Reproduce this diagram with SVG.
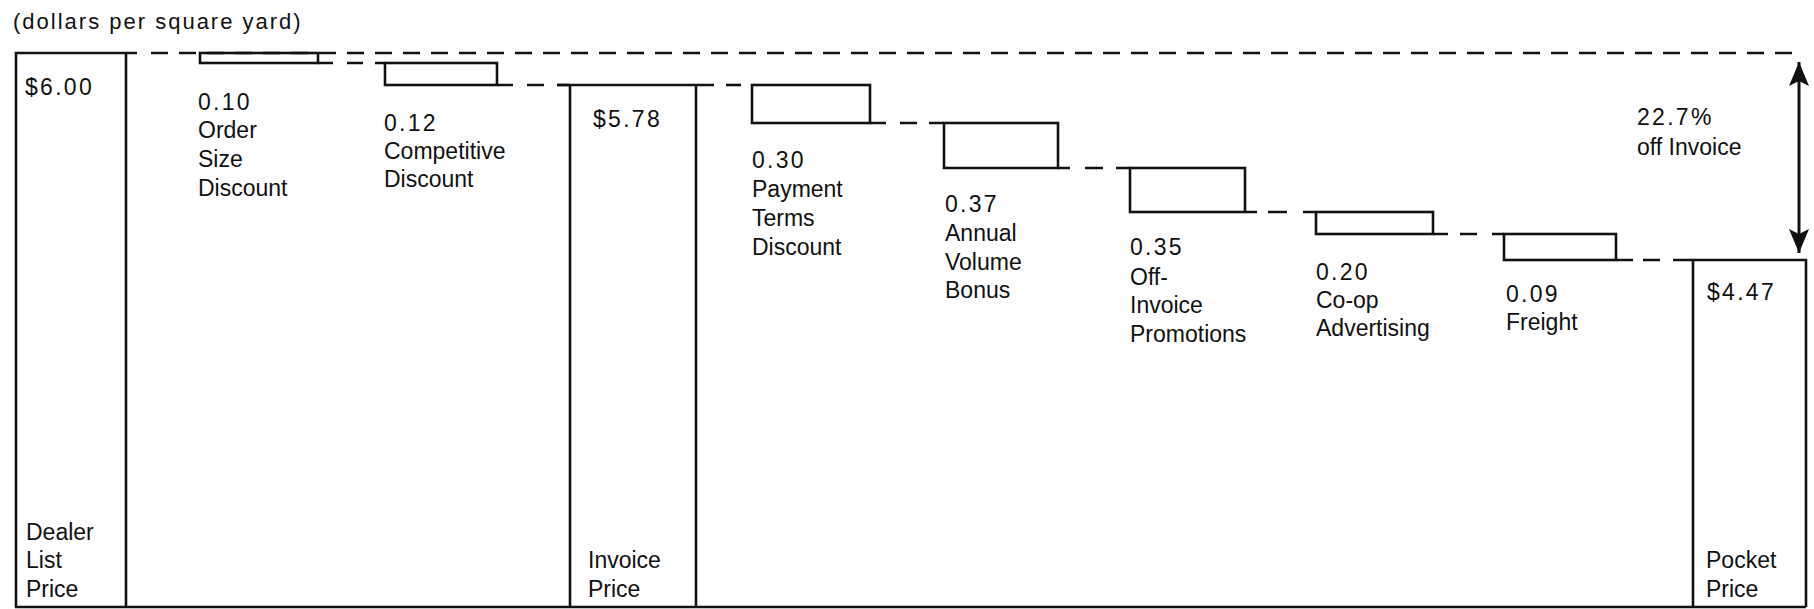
<svg xmlns="http://www.w3.org/2000/svg" width="1814" height="609" viewBox="0 0 1814 609">
<style>
  text { font-family: "Liberation Sans", Arial, sans-serif; font-size: 23px; fill: #111; }
  .num { letter-spacing: 2.3px; }
  .sub { letter-spacing: 2px; font-size: 22px; }
  .edge { fill: none; stroke: #111; stroke-width: 2.6; }
  .conn { fill: none; stroke: #111; stroke-width: 2.6; }
  .top { fill: none; stroke: #111; stroke-width: 2.6; stroke-dasharray: 17 11; }
  .arrow { fill: none; stroke: #111; stroke-width: 3; marker-start: url(#ah); marker-end: url(#ah); }
</style>
<defs>
  <marker id="ah" viewBox="0 0 24 20" markerWidth="24" markerHeight="20" markerUnits="userSpaceOnUse" refX="24" refY="10" orient="auto-start-reverse">
    <path d="M0,0 L24,10 L0,20 L5,10 z" fill="#111"/>
  </marker>
</defs>
<rect width="1814" height="609" fill="#fff"/>

<text class="sub" x="13" y="29">(dollars per square yard)</text>

<g id="connectors">
  <line class="top" x1="151" y1="53" x2="1802" y2="53"/>
  <path class="conn" d="M318 63 H333 M347 63 H363 M375 63 H385"/>
  <path class="conn" d="M497 85 H513 M527 85 H544 M557 85 H570"/>
  <path class="conn" d="M726 85 H741"/>
  <path class="conn" d="M870 123 H886 M900 123 H917 M929 123 H944"/>
  <path class="conn" d="M1058 168 H1070 M1085 168 H1103 M1116 168 H1130"/>
  <path class="conn" d="M1245 212 H1257 M1268 212 H1287 M1303 212 H1316"/>
  <path class="conn" d="M1433 234 H1448 M1460 234 H1477 M1492 234 H1504"/>
  <path class="conn" d="M1616 260 H1633 M1643 260 H1660 M1673 260 H1693"/>
  <line class="edge" x1="15" y1="607" x2="1806" y2="607"/>
  <line class="arrow" x1="1799" y1="62" x2="1799" y2="253"/>
</g>

<g id="dealer-list-price">
  <path class="edge" d="M16 607 V53 H137 M126 53 V607"/>
  <text class="num" x="25" y="95">$6.00</text>
  <text x="26" y="540">Dealer</text>
  <text x="26" y="568">List</text>
  <text x="26" y="597">Price</text>
</g>

<g id="order-size-discount">
  <rect class="edge" x="200" y="53" width="118" height="10"/>
  <text class="num" x="198" y="110">0.10</text>
  <text x="198" y="138">Order</text>
  <text x="198" y="167">Size</text>
  <text x="198" y="196">Discount</text>
</g>

<g id="competitive-discount">
  <rect class="edge" x="385" y="63" width="112" height="22"/>
  <text class="num" x="384" y="131">0.12</text>
  <text x="384" y="159">Competitive</text>
  <text x="384" y="187">Discount</text>
</g>

<g id="invoice-price">
  <path class="edge" d="M570 607 V85 M557 85 H714 M696 85 V607"/>
  <text class="num" x="593" y="127">$5.78</text>
  <text x="588" y="568">Invoice</text>
  <text x="588" y="597">Price</text>
</g>

<g id="payment-terms-discount">
  <rect class="edge" x="752" y="85" width="118" height="38"/>
  <text class="num" x="752" y="168">0.30</text>
  <text x="752" y="197">Payment</text>
  <text x="752" y="226">Terms</text>
  <text x="752" y="255">Discount</text>
</g>

<g id="annual-volume-bonus">
  <rect class="edge" x="944" y="123" width="114" height="45"/>
  <text class="num" x="945" y="212">0.37</text>
  <text x="945" y="241">Annual</text>
  <text x="945" y="270">Volume</text>
  <text x="945" y="298">Bonus</text>
</g>

<g id="off-invoice-promotions">
  <rect class="edge" x="1130" y="168" width="115" height="44"/>
  <text class="num" x="1130" y="255">0.35</text>
  <text x="1130" y="285">Off-</text>
  <text x="1130" y="313">Invoice</text>
  <text x="1130" y="342">Promotions</text>
</g>

<g id="coop-advertising">
  <rect class="edge" x="1316" y="212" width="117" height="22"/>
  <text class="num" x="1316" y="280">0.20</text>
  <text x="1316" y="308">Co-op</text>
  <text x="1316" y="336">Advertising</text>
</g>

<g id="freight">
  <rect class="edge" x="1504" y="234" width="112" height="26"/>
  <text class="num" x="1506" y="302">0.09</text>
  <text x="1506" y="330">Freight</text>
</g>

<g id="pocket-price">
  <path class="edge" d="M1693 607 V260 H1806 V607"/>
  <text class="num" x="1707" y="300">$4.47</text>
  <text x="1706" y="568">Pocket</text>
  <text x="1706" y="597">Price</text>
</g>

<g id="off-invoice-note">
  <text class="num" x="1637" y="125">22.7%</text>
  <text x="1637" y="155">off Invoice</text>
</g>
</svg>
